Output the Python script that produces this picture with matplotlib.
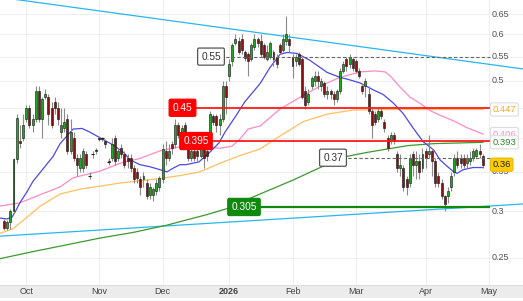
import matplotlib
matplotlib.use('Agg')
import matplotlib.pyplot as plt
import matplotlib.transforms as mtrans
import numpy as np
import pandas as pd

plt.rcParams['font.family'] = ['Liberation Sans', 'DejaVu Sans']

# ---------------- data ----------------
holidays = ['2025-12-25', '2025-12-26', '2026-01-01', '2026-01-26', '2026-04-03', '2026-04-06']

opens = [.289, .281, .287, .300, .368, .395, .400, .430, .450, .420,
         .430, .480, .430, .470, .470, .450, .460, .450, .410, .415,
         .430, .380, .400, .370, .355, .355, .375, .345, .376, .380,
         .400, .398, .395, .365, .370, .400, .370, .385, .375, .370,
         .370, .355, .350, .340, .340, .335, .320, .320, .325, .330,
         .340, .380, .370, .390, .390, .420, .405, .420, .400, .370,
         .380, .380, .372, .385, .380, .390, .435, .435, .420, .430,
         .490, .510, .540, .580, .585, .590, .560, .555, .545, .570,
         .590, .585, .575, .545, .550, .560, .550, .575, .565, .585,
         .590, .550, .540, .555, .545, .480, .460, .490, .500, .510,
         .490, .495, .475, .480, .475, .465, .480, .520, .545, .535,
         .545, .540, .520, .490, .490, .475, .445, .440, .430, .445,
         .425, .400, .395, .405, .375, .355, .355, .340, .335, .375,
         .360, .365, .355, .380, .375, .380, .365, .345, .335, .318,
         .318, .330, .350, .370, .370, .370, .362, .365, .370, .372,
         .380, .372]
highs = [.291, .290, .302, .370, .440, .420, .440, .455, .455, .440,
         .490, .490, .470, .485, .475, .460, .470, .460, .450, .450,
         .440, .430, .410, .375, .375, .385, .380, .350, .380, .385,
         .402, .402, .398, .370, .400, .405, .385, .390, .380, .375,
         .375, .360, .355, .345, .350, .340, .335, .330, .340, .345,
         .390, .395, .390, .395, .430, .425, .420, .425, .405, .385,
         .385, .385, .390, .390, .385, .445, .440, .440, .440, .500,
         .500, .545, .580, .600, .595, .600, .565, .560, .580, .600,
         .595, .600, .580, .575, .585, .565, .555, .580, .600, .645,
         .600, .555, .555, .560, .550, .490, .485, .510, .520, .520,
         .505, .500, .490, .485, .480, .485, .525, .540, .550, .555,
         .550, .545, .525, .495, .505, .490, .450, .445, .450, .450,
         .430, .405, .410, .410, .380, .375, .360, .345, .375, .380,
         .380, .375, .385, .385, .405, .385, .370, .350, .340, .320,
         .330, .350, .375, .380, .375, .375, .375, .380, .385, .385,
         .390, .375]
lows = [.279, .279, .280, .298, .362, .385, .395, .425, .415, .410,
        .425, .425, .400, .465, .420, .415, .440, .420, .400, .410,
        .375, .375, .365, .345, .350, .350, .355, .340, .370, .375,
        .395, .395, .385, .360, .365, .360, .365, .370, .355, .355,
        .350, .335, .335, .320, .330, .315, .315, .312, .320, .325,
        .335, .360, .365, .375, .385, .400, .390, .390, .365, .365,
        .365, .365, .370, .355, .365, .385, .420, .410, .405, .425,
        .440, .500, .530, .575, .555, .555, .540, .510, .540, .565,
        .570, .550, .545, .540, .545, .530, .525, .555, .560, .575,
        .560, .505, .530, .530, .465, .447, .455, .485, .490, .485,
        .480, .470, .465, .465, .455, .460, .475, .515, .520, .525,
        .520, .515, .505, .475, .470, .440, .400, .420, .425, .430,
        .410, .380, .390, .390, .350, .345, .325, .320, .330, .345,
        .340, .340, .350, .355, .370, .345, .330, .330, .315, .300,
        .310, .325, .345, .355, .355, .355, .355, .360, .365, .370,
        .370, .355]
closes = [.281, .287, .300, .368, .432, .392, .420, .450, .420, .430,
          .480, .430, .465, .475, .440, .420, .450, .430, .420, .425,
          .380, .410, .370, .360, .370, .380, .360, .344, .375, .382,
          .398, .400, .390, .364, .390, .365, .380, .375, .360, .365,
          .355, .340, .342, .330, .345, .318, .330, .327, .335, .342,
          .383, .370, .380, .385, .420, .405, .415, .405, .370, .380,
          .370, .372, .385, .370, .372, .440, .425, .420, .430, .490,
          .470, .535, .575, .590, .560, .565, .548, .540, .575, .590,
          .580, .555, .550, .560, .580, .545, .535, .560, .590, .600,
          .575, .530, .550, .535, .470, .455, .475, .505, .510, .500,
          .500, .475, .480, .475, .465, .480, .520, .535, .530, .550,
          .525, .520, .510, .480, .500, .445, .420, .425, .445, .435,
          .415, .385, .405, .395, .355, .360, .330, .330, .370, .360,
          .365, .350, .375, .370, .380, .365, .335, .335, .318, .308,
          .325, .345, .370, .360, .362, .360, .370, .370, .380, .382,
          .375, .360]

# moving averages (trading-day index, price)
ma20_idx = [-1.3, 0.9, 2.5, 3.5, 5, 7.3, 9.1, 12.3, 15.5, 17.7, 21.8, 24.6, 27.1, 30.3, 34.4,
            37.9, 39.7, 42.9, 46.1, 49.2, 51.4, 53.3, 55.5, 57.4, 61.5, 64.7, 67.8, 69.7, 72.9,
            76.0, 80.8, 83.9, 87.1, 89.3, 92.4, 96.5, 101.9, 106, 109.1, 112.3, 116.4, 119.6,
            122.7, 125.9, 129, 132.2, 133.8, 135.6, 137.5, 139.7, 141.6, 142.9, 144.8, 147.9, 151.1]
ma20_val = [.292, .291, .293, .299, .310, .324, .337, .354, .372, .391, .414, .415, .409, .400, .389,
            .377, .367, .360, .357, .353, .350, .355, .360, .360, .364, .377, .392, .409, .434,
            .461, .495, .527, .555, .559, .557, .542, .517, .507, .502, .496, .483, .474,
            .459, .440, .416, .394, .388, .381, .367, .358, .351, .348, .353, .356, .356]
ma50_idx = [-1.3, 5, 11.4, 17.7, 21.8, 30.3, 36.6, 42.9, 49.2, 53.3, 57.4, 61.8, 68.1, 71.9,
            74.4, 77, 80.8, 87.1, 93.4, 99.7, 106, 112.3, 117, 120.2, 121.8, 124.9, 128.1,
            131.2, 134.4, 137.5, 141.6, 146.1, 151.1]
ma50_val = [.306, .310, .320, .330, .342, .351, .362, .369, .380, .384, .388, .386, .384, .387,
            .398, .414, .419, .448, .469, .490, .507, .518, .520, .518, .510, .488, .469,
            .458, .445, .437, .428, .416, .406]
ma100_idx = [-1.3, 2.8, 7.3, 11.4, 17.7, 24, 30.3, 36.6, 42.9, 49.2, 55.5, 61.8, 68.1, 74.4,
             80.8, 87.1, 94.3, 101.9, 110.1, 122.7, 151.1]
ma100_val = [.275, .280, .293, .306, .321, .327, .331, .335, .338, .341, .345, .350, .362, .373,
             .383, .403, .426, .439, .446, .447, .447]
ma200_idx = [-1.3, 9.1, 19.9, 30.3, 40.7, 51.4, 57.7, 64, 70.3, 76.7, 80.8, 91.2, 99.7, 108.2,
             114.8, 121.1, 127.4, 135.6, 151.1]
ma200_val = [.249, .256, .263, .270, .276, .284, .290, .296, .303, .314, .321, .339, .356, .372,
             .378, .383, .388, .391, .393]

trend_idx = [-1.26, 163.7]
trend_upper = [0.694, 0.524]
trend_lower = [0.272, 0.3086]

level_values = [0.55, 0.45, 0.395, 0.37, 0.305]
level_labels = ['0.55', '0.45', '0.395', '0.37', '0.305']

ytick_values = [0.65, 0.6, 0.55, 0.5, 0.45, 0.4, 0.35, 0.3, 0.25]
ytick_labels = ['0.65', '0.6', '0.55', '0.5', '0.45', '0.4', '0.35', '0.3', '0.25']
month_starts = ['2025-10-01', '2025-11-01', '2025-12-01', '2026-01-01', '2026-02-01',
                '2026-03-01', '2026-04-01', '2026-05-01']
month_labels = ['Oct', 'Nov', 'Dec', '2026', 'Feb', 'Mar', 'Apr', 'May']

last_labels = ['0.447', '0.406', '0.393', '0.36']
last_values = [0.447, 0.406, 0.393, 0.36]

# ---------------- calendar ----------------
cal = pd.bdate_range('2025-09-22', '2026-06-30')
cal = cal[~cal.isin(pd.to_datetime(holidays))]
n = len(closes)
idx = np.arange(n)
month_pos = [int(cal.searchsorted(pd.Timestamp(m))) for m in month_starts]

# ---------------- figure ----------------
W, H = 523, 301
fig = plt.figure(figsize=(W / 100, H / 100), dpi=100)
fig.patch.set_facecolor('white')

# x-axis band (drawn below the axes)
fig.patches.append(plt.Rectangle((0, 3 / H), 1, 13 / H, transform=fig.transFigure,
                                 fc='#ececec', ec='none', zorder=-2))
fig.patches.append(plt.Rectangle((0, 15.5 / H), 1, 1 / H, transform=fig.transFigure,
                                 fc='#dcdcdc', ec='none', zorder=-2))

ax = fig.add_axes([0, 16 / H, 1, 285 / H])
ax.set_yscale('log')
ax.set_ylim(0.2246, 0.6867)
ax.set_xlim(-1.26, 163.7)
ax.axis('off')

def px(xp):
    return -1.26 + xp * (164.96 / W)

x_right = px(490)

# grid
for v in ytick_values:
    ax.axhline(v, color='#efefef', lw=0.8, zorder=0)
for m in month_pos:
    ax.axvline(m, color='#efefef', lw=0.8, zorder=0)

# trend lines
ax.plot(trend_idx, trend_upper, color='#29b6f0', lw=0.9, zorder=1)
ax.plot(trend_idx, trend_lower, color='#29b6f0', lw=0.9, zorder=1)

# moving averages
ax.plot(ma200_idx, ma200_val, color='#3a9a2e', lw=0.9, zorder=2)
ax.plot(ma100_idx, ma100_val, color='#ffc060', lw=0.9, zorder=2)
ax.plot(ma50_idx, ma50_val, color='#ff8ac4', lw=0.9, zorder=2)
ax.plot(ma20_idx, ma20_val, color='#4a4ae6', lw=0.9, zorder=2)

# candles
o = np.array(opens); h = np.array(highs); l = np.array(lows); c = np.array(closes)
ax.vlines(idx, l, h, color='#8a8a8a', lw=0.8, zorder=3)
up = c >= o
body_lo = np.minimum(o, c)
body_h = np.abs(c - o)
ax.bar(idx[up], body_h[up], bottom=body_lo[up], width=0.62, color='#1fa81f',
       edgecolor='#111111', linewidth=0.4, zorder=4)
ax.bar(idx[~up], body_h[~up], bottom=body_lo[~up], width=0.62, color='#8b1111',
       edgecolor='#111111', linewidth=0.4, zorder=4)
doji = body_h < 0.003
ax.hlines(c[doji], idx[doji] - 0.4, idx[doji] + 0.4, color='#222222', lw=0.8, zorder=4)

# level lines with labels
lvl_style = {
    '0.55': dict(x0=px(198), xc=px(211), color='#666666', ls=(0, (3, 2)), lw=0.8,
                 fc='white', ec='#555555', tc='#333333'),
    '0.45': dict(x0=px(170), xc=px(182.5), color='#ff1a1a', ls='-', lw=1.3,
                 fc='#ff0000', ec='#ff0000', tc='white'),
    '0.395': dict(x0=px(181), xc=px(196), color='#ff1a1a', ls='-', lw=1.3,
                  fc='#ff0000', ec='#ff0000', tc='white'),
    '0.37': dict(x0=px(320), xc=px(333), color='#666666', ls=(0, (3, 2)), lw=0.8,
                 fc='white', ec='#555555', tc='#333333'),
    '0.305': dict(x0=px(228), xc=px(244), color='#0f8a0f', ls='-', lw=1.6,
                  fc='#0f8a0f', ec='#0f8a0f', tc='white'),
}
for v, lab in zip(level_values, level_labels):
    s = lvl_style[lab]
    ax.hlines(v, s['x0'], x_right, color=s['color'], lw=s['lw'], linestyles=[s['ls']], zorder=5)
    ax.text(s['xc'], v, lab, ha='center', va='center', fontsize=7.3, color=s['tc'], zorder=6,
            bbox=dict(boxstyle='round,pad=0.35,rounding_size=0.15', fc=s['fc'], ec=s['ec'], lw=0.9))

# right axis tick labels
tr_r = mtrans.blended_transform_factory(ax.transAxes, ax.transData)
for v, lab in zip(ytick_values, ytick_labels):
    ax.text(492 / W, v, lab, transform=tr_r, ha='left', va='center', fontsize=6.5,
            color='#555555', zorder=6)

# last value labels
last_style = [('#ffa726', 'white', '#dddddd'), ('#ff8ac4', 'white', '#dddddd'),
              ('#2e8b2e', 'white', '#dddddd'), ('#222222', '#ffcc00', '#e8b800')]
for (tc, fc, ec), v, lab in zip(last_style, last_values, last_labels):
    ax.text(492.5 / W, v, lab, transform=tr_r, ha='left', va='center', fontsize=6.8,
            color=tc, zorder=7,
            bbox=dict(boxstyle='round,pad=0.22,rounding_size=0.2', fc=fc, ec=ec, lw=0.8))

# month labels
tr_x = mtrans.blended_transform_factory(ax.transData, fig.transFigure)
for m, lab in zip(month_pos, month_labels):
    ax.text(m, 9.5 / H, lab, transform=tr_x, ha='center', va='center', fontsize=6.5,
            color='#444444', fontweight='bold' if lab == '2026' else 'normal',
            clip_on=False, zorder=10)

fig.savefig('out.png', dpi=100, facecolor='white')
